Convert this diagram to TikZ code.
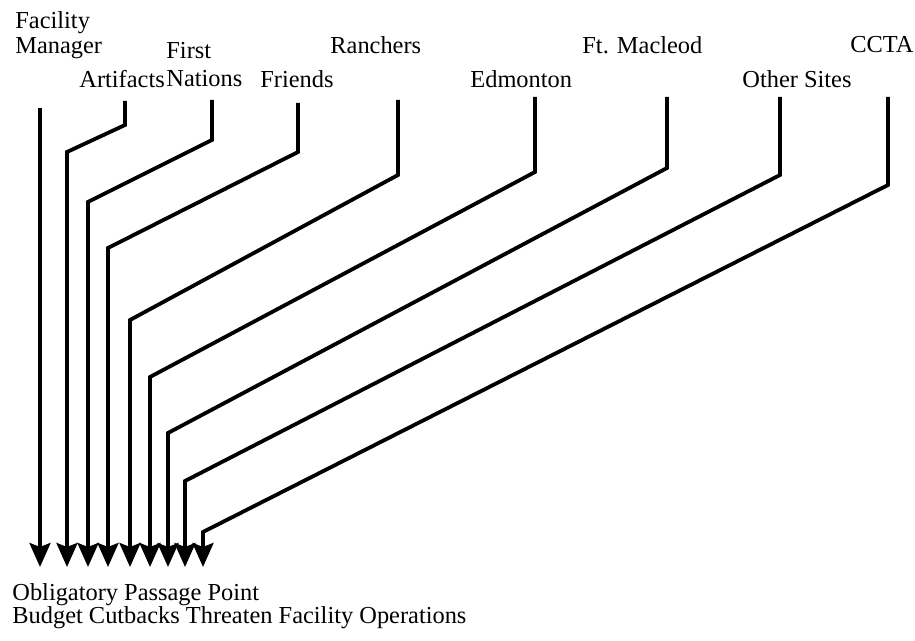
\documentclass[tikz,border=0pt]{standalone}
\usepackage{fontspec}
\setmainfont{Liberation Serif}
\usetikzlibrary{arrows.meta}
\begin{document}
\begin{tikzpicture}[x=0.5pt,y=-0.5pt]
  \tikzstyle{actor}=[inner sep=0pt,anchor=west,align=left,
  font=\fontsize{12.2}{14}\selectfont]
  \tikzstyle{link}=[line width=1.9pt,-{Stealth[length=12pt,width=10.5pt,inset=2pt]}]
  \useasboundingbox (0,0) rectangle (915,641);
  % actors
  \node[actor,font=\fontsize{12.2}{12.8}\selectfont](fm) at (15,35){Facility\\Manager};
  \node[actor](art) at (79,79){Artifacts};
  \node[actor](fn) at (166,65){First\\Nations};
  \node[actor](fr) at (260,79){Friends};
  \node[actor](ranch) at (330,45){Ranchers};
  \node[actor](edm) at (470,79){Edmonton};
  \node[actor](ftm) at (582,45){Ft. Macleod};
  \node[actor](other) at (742,79){Other Sites};
  \node[actor](ccta) at (850,45){CCTA};
  \node[actor,font=\fontsize{12.2}{11.6}\selectfont](opp) at (12,606)
  {Obligatory Passage Point\\Budget Cutbacks Threaten Facility Operations};
  % line ends
  \coordinate (fm-a) at (40,108);   \coordinate (fm-z) at (40,567);
  \coordinate (art-a) at (125,101); \coordinate (art-z) at (67,567);
  \coordinate (fn-a) at (212,100);  \coordinate (fn-z) at (88,567);
  \coordinate (fr-a) at (298,103);  \coordinate (fr-z) at (108,567);
  \coordinate (ranch-a) at (398,100); \coordinate (ranch-z) at (130,567);
  \coordinate (edm-a) at (535,97);  \coordinate (edm-z) at (150,567);
  \coordinate (ftm-a) at (667,97);  \coordinate (ftm-z) at (168,567);
  \coordinate (other-a) at (780,97); \coordinate (other-z) at (185,567);
  \coordinate (ccta-a) at (888,97); \coordinate (ccta-z) at (203,567);
  % links to the passage point
  \path[draw,link] (fm-a) -- (fm-z);
  \path[draw,link] (art-a) -- ++(0,24) -- (67,152) -- (art-z);
  \path[draw,link] (fn-a) -- ++(0,40) -- (88,202) -- (fn-z);
  \path[draw,link] (fr-a) -- ++(0,49) -- (108,248) -- (fr-z);
  \path[draw,link] (ranch-a) -- ++(0,75) -- (130,320) -- (ranch-z);
  \path[draw,link] (edm-a) -- ++(0,75) -- (150,377) -- (edm-z);
  \path[draw,link] (ftm-a) -- ++(0,71) -- (168,433) -- (ftm-z);
  \path[draw,link] (other-a) -- ++(0,78) -- (185,481) -- (other-z);
  \path[draw,link] (ccta-a) -- ++(0,88) -- (203,532) -- (ccta-z);
\end{tikzpicture}
\end{document}
